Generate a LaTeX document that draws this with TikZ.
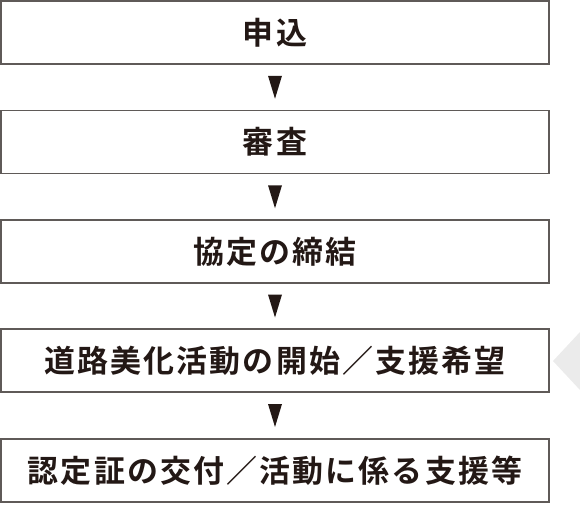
\documentclass[tikz,border=0pt]{standalone}
\usepackage{fontspec}
\newfontfamily\jpfont[LetterSpace=7]{Noto Sans CJK JP Bold}
\definecolor{ink}{HTML}{231815}
\definecolor{frame}{HTML}{5F5A58}
\definecolor{pale}{HTML}{EBEBEB}
\begin{document}
\begin{tikzpicture}[x=0.75pt,y=-0.75pt,
  stepbox/.style={draw=frame,line width=1.1pt,minimum width=548*0.75pt,minimum height=63*0.75pt,inner sep=0pt,font=\jpfont\fontsize{23.2pt}{27pt}\selectfont,text=ink},
  tri/.style={fill=ink,draw=none}]
\useasboundingbox (0,0) rectangle (580,525);
\node[stepbox] (s1) at (275,32.5) {申込};
\node[stepbox] (s2) at (275,142) {審査};
\node[stepbox] (s3) at (275,251.5) {協定の締結};
\node[stepbox] (s4) at (275,360.5) {道路美化活動の開始／支援希望};
\node[stepbox] (s5) at (275,470.5) {認定証の交付／活動に係る支援等};
\foreach \a/\b in {s1/s2,s2/s3,s3/s4,s4/s5}{
  \path (\a.south) -- (\b.north) coordinate[pos=0.5] (m\a);
  \fill[ink] ([xshift=-7*0.75pt,yshift=11.5*0.75pt]m\a) -- ([xshift=7*0.75pt,yshift=11.5*0.75pt]m\a) -- ([yshift=-11.5*0.75pt]m\a) -- cycle;
}
\fill[pale] (553,361) -- (580,332) -- (580,390) -- cycle;
\end{tikzpicture}
\end{document}
